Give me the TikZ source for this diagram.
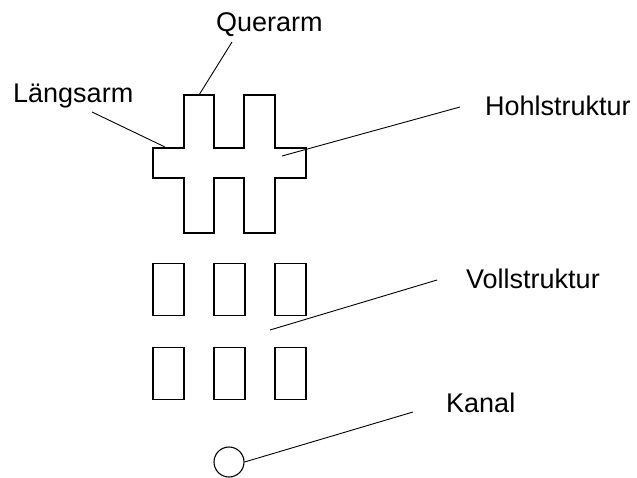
\documentclass[tikz,border=0pt]{standalone}
\usepackage{fontspec}
\setmainfont{Liberation Sans}
\begin{document}
\begin{tikzpicture}[x=1pt,y=-1pt,
  shapeline/.style={line width=1.3pt, line join=miter},
  leader/.style={line width=0.9pt},
  lbl/.style={font=\fontsize{27}{32}\selectfont, inner sep=0pt, anchor=base west},
  cell/.style={draw, line width=1.3pt, minimum width=31pt, minimum height=52pt, inner sep=0pt},
  kanal/.style={draw, circle, line width=1.1pt, minimum size=30pt, inner sep=0pt}]
\useasboundingbox (0,0) rectangle (637,477);
% hollow structure
\draw[shapeline] (153,148) -- (184,148) -- (184,95) -- (214,95) -- (214,148) -- (244,148) -- (244,95) -- (275,95) -- (275,148) -- (306,148) -- (306,178) -- (275,178) -- (275,233) -- (244,233) -- (244,178) -- (214,178) -- (214,233) -- (184,233) -- (184,178) -- (153,178) -- cycle;
% solid structure
\node[cell] (r11) at (168.5,289.5) {};
\node[cell] (r12) at (229.5,289.5) {};
\node[cell] (r13) at (290.5,289.5) {};
\node[cell] (r21) at (168.5,373.5) {};
\node[cell] (r22) at (229.5,373.5) {};
\node[cell] (r23) at (290.5,373.5) {};
% channel
\node[kanal] (ch) at (229,462) {};
% labels
\node[lbl] (quer) at (216,31) {Querarm};
\node[lbl] (laengs) at (13,102) {Längsarm};
\node[lbl] (hohl) at (485,115) {Hohlstruktur};
\node[lbl] (voll) at (466,288) {Vollstruktur};
\node[lbl] (kan) at (446,412) {Kanal};
% leader endpoints
\coordinate (q1) at (232,42);
\coordinate (q2) at (199,95);
\coordinate (l1) at (92,112);
\coordinate (l2) at (165,147);
\coordinate (h1) at (460,107);
\coordinate (h2) at (282,156);
\coordinate (v1) at (437,280);
\coordinate (v2) at (270,330);
\coordinate (k1) at (413,412);
\draw[leader] (q1) -- (q2);
\draw[leader] (l1) -- (l2);
\draw[leader] (h1) -- (h2);
\draw[leader] (v1) -- (v2);
\draw[leader] (k1) -- (ch.east);
\end{tikzpicture}
\end{document}
